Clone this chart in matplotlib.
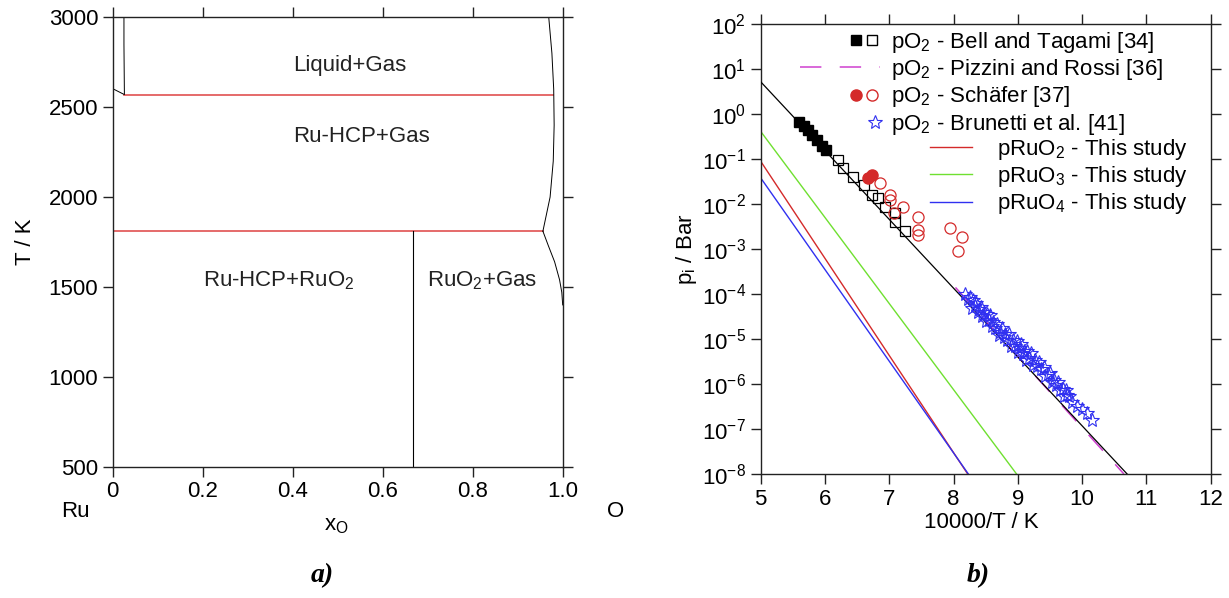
import matplotlib
matplotlib.use("Agg")
import matplotlib.pyplot as plt
import numpy as np
from matplotlib.lines import Line2D
from matplotlib.legend_handler import HandlerTuple
from matplotlib.ticker import FixedLocator, NullLocator, LogFormatterMathtext

plt.rcParams["font.family"] = ["Liberation Sans", "DejaVu Sans"]
plt.rcParams["mathtext.fontset"] = "custom"
plt.rcParams["mathtext.rm"] = "Liberation Sans"
plt.rcParams["mathtext.it"] = "Liberation Sans:italic"
plt.rcParams["mathtext.bf"] = "Liberation Sans:bold"
plt.rcParams["font.size"] = 16
plt.rcParams["axes.unicode_minus"] = False

# ---- a) Ru-O phase diagram ----
T_liquid = 2570
T_eutectic = 1810
x_ruo2 = 0.667
liq_x = [0.0, 0.026, 0.025, 0.025]
liq_T = [2603, 2570, 2850, 3000]
gas_hi_x = [0.969, 0.976, 0.980, 0.981, 0.979, 0.972, 0.956]
gas_hi_T = [3000, 2800, 2600, 2400, 2200, 2000, 1810]
gas_lo_x = [0.956, 0.968, 0.982, 0.993, 0.998, 1.0]
gas_lo_T = [1810, 1730, 1640, 1540, 1470, 1400]
region_labels = ["Liquid+Gas", "Ru-HCP+Gas", "Ru-HCP+RuO$_2$", "RuO$_2$+Gas"]
region_x = [0.526, 0.552, 0.37, 0.822]
region_T = [2701, 2306, 1505, 1505]

# ---- b) vapour pressures vs 10000/T ----
calc_x = [5.0, 10.70]
pO2_calc = [5.2, 1e-8]
ruo2_x = [5.0, 8.22]
pRuO2 = [0.089, 1e-8]
ruo3_x = [5.0, 8.98]
pRuO3 = [0.41, 1e-8]
ruo4_x = [5.0, 8.23]
pRuO4 = [0.038, 1e-8]
pizzini_x = [8.03, 10.65]
pizzini_p = [1.4e-4, 1e-8]

bell_fill_x = [5.60, 5.67, 5.73, 5.80, 5.87, 5.95, 6.02]
bell_fill_logp = [-0.17, -0.27, -0.36, -0.47, -0.57, -0.70, -0.80]
bell_open_x = [6.21, 6.28, 6.44, 6.60, 6.73, 6.83, 6.93, 7.09, 7.09, 7.24]
bell_open_logp = [-1.02, -1.21, -1.39, -1.58, -1.80, -1.87, -2.06, -2.21, -2.39, -2.60]

schafer_fill_x = [6.67, 6.73]
schafer_fill_logp = [-1.43, -1.36]
schafer_open_x = [6.86, 7.01, 7.01, 7.22, 7.08, 7.45, 7.45, 7.45, 7.94, 8.13, 8.07]
schafer_open_logp = [-1.53, -1.80, -1.91, -2.06, -2.19, -2.28, -2.58, -2.69, -2.54, -2.73, -3.04]

brunetti_x = [8.18, 8.22, 8.25, 8.28, 8.30, 8.33, 8.35, 8.38, 8.40, 8.42,
              8.45, 8.47, 8.50, 8.52, 8.55, 8.57, 8.60, 8.62, 8.65, 8.68,
              8.70, 8.73, 8.75, 8.78, 8.80, 8.83, 8.86, 8.90, 8.93, 8.95,
              8.98, 9.00, 9.03, 9.05, 9.08, 9.10, 9.13, 9.15, 9.18, 9.20,
              9.23, 9.26, 9.30, 9.33, 9.36, 9.40, 9.43, 9.47, 9.50, 9.53,
              9.57, 9.60, 9.63, 9.66, 9.70, 9.72, 9.75, 9.77, 9.80, 9.85,
              9.92, 10.00, 10.08, 10.15]
brunetti_logp = [-4.00, -4.11, -4.07, -4.30, -4.14, -4.27, -4.21, -4.39, -4.34, -4.29,
                 -4.48, -4.41, -4.59, -4.44, -4.58, -4.47, -4.71, -4.62, -4.75, -4.67,
                 -4.90, -4.84, -4.75, -4.96, -4.89, -5.02, -4.89, -5.15, -5.02, -5.16,
                 -5.04, -5.28, -5.19, -5.11, -5.34, -5.27, -5.46, -5.27, -5.43, -5.31,
                 -5.57, -5.47, -5.61, -5.52, -5.66, -5.63, -5.83, -5.78, -5.76, -5.95,
                 -5.91, -6.02, -5.95, -6.14, -6.10, -6.27, -6.14, -6.25, -6.26, -6.40,
                 -6.49, -6.55, -6.65, -6.80]

legend_labels = ["pO$_2$ - Bell and Tagami [34]",
                 "pO$_2$ - Pizzini and Rossi [36]",
                 "pO$_2$ - Schäfer [37]",
                 "pO$_2$ - Brunetti et al. [41]"]
calc_labels = ["pRuO$_2$ - This study", "pRuO$_3$ - This study", "pRuO$_4$ - This study"]

RED = "#d42a2a"
GREEN = "#6fe030"
BLUE = "#3030f0"
MAGENTA = "#d040d0"
SPINE = "#222222"


class RightTuple(HandlerTuple):
    # put the tuple markers at the right end of the handle box
    def __init__(self, w, **kw):
        super().__init__(ndivide=None, pad=0.0, **kw)
        self.w = w

    def create_artists(self, legend, orig_handle, xdescent, ydescent,
                       width, height, fontsize, trans):
        w = self.w * fontsize
        return super().create_artists(legend, orig_handle, xdescent - (width - w),
                                      ydescent, w, height, fontsize, trans)


def style_axes(ax):
    for s in ax.spines.values():
        s.set_color(SPINE)
        s.set_linewidth(1.0)
    ax.tick_params(which="both", direction="out", length=7, width=1.0, color=SPINE,
                   top=True, right=True, labeltop=False, labelright=False, pad=3.5)


fig = plt.figure(figsize=(12.29, 5.98), dpi=100)
W, H = 1229, 598

ax1 = fig.add_axes([112.7 / W, 1 - 466.7 / H, 450 / W, 449.4 / H])
ax1.plot([liq_x[1], 0.979], [T_liquid, T_liquid], color="#e05050", lw=1.2)
ax1.plot([0.0, gas_hi_x[-1]], [T_eutectic, T_eutectic], color="#e05050", lw=1.2)
ax1.plot([x_ruo2, x_ruo2], [500, T_eutectic], color="k", lw=0.8)
ax1.plot(liq_x, liq_T, color="k", lw=0.7)
ax1.plot(gas_hi_x, gas_hi_T, color="k", lw=0.7)
ax1.plot(gas_lo_x, gas_lo_T, color="k", lw=0.7)
for lab, x, t in zip(region_labels, region_x, region_T):
    ax1.text(x, t, lab, ha="center", va="baseline", color="#222222")
ax1.set_xlim(0, 1.0)
ax1.set_ylim(500, 3000)
ax1.xaxis.set_major_locator(FixedLocator([0, 0.2, 0.4, 0.6, 0.8, 1.0]))
ax1.set_xticklabels(["0", "0.2", "0.4", "0.6", "0.8", "1.0"])
ax1.yaxis.set_major_locator(FixedLocator([500, 1000, 1500, 2000, 2500, 3000]))
style_axes(ax1)
ax1.set_ylabel("T / K")
ax1.yaxis.set_label_coords(-0.17, 0.5)
ax1.set_xlabel("x$_\\mathrm{O}$")
ax1.xaxis.set_label_coords(0.496, -0.108)
ax1.text(-0.083, -0.10, "Ru", transform=ax1.transAxes, ha="center", va="center")
ax1.text(1.118, -0.10, "O", transform=ax1.transAxes, ha="center", va="center")
fig.text(322 / W, 1 - 576 / H, "a)", family="Liberation Serif", weight="bold",
         style="italic", fontsize=20, ha="center", va="center")

ax2 = fig.add_axes([760.7 / W, 1 - 474 / H, 450 / W, 450 / H])
ax2.set_yscale("log")
ax2.plot(calc_x, pO2_calc, color="k", lw=0.9, zorder=3)
ax2.plot(ruo2_x, pRuO2, color=RED, lw=1.0)
ax2.plot(ruo3_x, pRuO3, color=GREEN, lw=1.0)
ax2.plot(ruo4_x, pRuO4, color=BLUE, lw=1.0)
ax2.plot(pizzini_x, pizzini_p, color=MAGENTA, lw=1.1, dashes=(14, 12), zorder=2)
ax2.plot(bell_fill_x, 10 ** np.array(bell_fill_logp), ls="none", marker="s", ms=7,
         mfc="k", mec="k", zorder=4)
ax2.plot(bell_open_x, 10 ** np.array(bell_open_logp), ls="none", marker="s", ms=7,
         mfc="none", mec="k", mew=0.9, zorder=4)
ax2.plot(schafer_open_x, 10 ** np.array(schafer_open_logp), ls="none", marker="o", ms=8,
         mfc="none", mec=RED, mew=0.9, zorder=4)
ax2.plot(schafer_fill_x, 10 ** np.array(schafer_fill_logp), ls="none", marker="o", ms=8,
         mfc=RED, mec=RED, zorder=4)
ax2.plot(brunetti_x, 10 ** np.array(brunetti_logp), ls="none", marker="*", ms=10.5,
         mfc="none", mec=BLUE, mew=0.8, zorder=5)

ax2.set_xlim(5, 12)
ax2.set_ylim(1e-8, 1e2)
ax2.xaxis.set_major_locator(FixedLocator(range(5, 13)))
ax2.yaxis.set_major_locator(FixedLocator([10.0 ** k for k in range(-8, 3)]))
ax2.yaxis.set_major_formatter(LogFormatterMathtext())
ax2.yaxis.set_minor_locator(NullLocator())
style_axes(ax2)
ax2.set_ylabel("p$_\\mathrm{i}$ / Bar")
ax2.yaxis.set_label_coords(-0.138, 0.5)
ax2.set_xlabel("10000/T / K")
ax2.xaxis.set_label_coords(0.49, -0.085)
fig.text(978 / W, 1 - 576 / H, "b)", family="Liberation Serif", weight="bold",
         style="italic", fontsize=20, ha="center", va="center")

# legends
h_bell = (Line2D([], [], ls="none", marker="s", ms=7, mfc="k", mec="k"),
          Line2D([], [], ls="none", marker="s", ms=7, mfc="none", mec="k"))
h_pizz = Line2D([], [], color=MAGENTA, lw=1.1, dashes=(14, 12))
h_schafer = (Line2D([], [], ls="none", marker="o", ms=8, mfc=RED, mec=RED),
             Line2D([], [], ls="none", marker="o", ms=8, mfc="none", mec=RED))
h_brun = (Line2D([], [], ls="none", marker="*", ms=10, mfc="none", mec=BLUE, mew=0.8),)
leg1 = ax2.legend([h_bell, h_pizz, h_schafer, h_brun], legend_labels,
                  handler_map={h_bell: RightTuple(1.44), h_schafer: RightTuple(1.44),
                               h_brun: RightTuple(0.45)},
                  loc="upper left", bbox_to_anchor=((800 - 760.7) / 450, (474 - 30) / 450),
                  frameon=False, borderpad=0, borderaxespad=0, handlelength=3.6,
                  handletextpad=0.48, labelspacing=0.1)
ax2.add_artist(leg1)
h_calc = [Line2D([], [], color=c, lw=1.0) for c in (RED, GREEN, BLUE)]
ax2.legend(h_calc, calc_labels, loc="upper left",
           bbox_to_anchor=((930 - 760.7) / 450, (474 - 137) / 450),
           frameon=False, borderpad=0, borderaxespad=0, handlelength=1.9,
           handletextpad=1.1, labelspacing=0.1)

fig.savefig("out.png", dpi=100)
